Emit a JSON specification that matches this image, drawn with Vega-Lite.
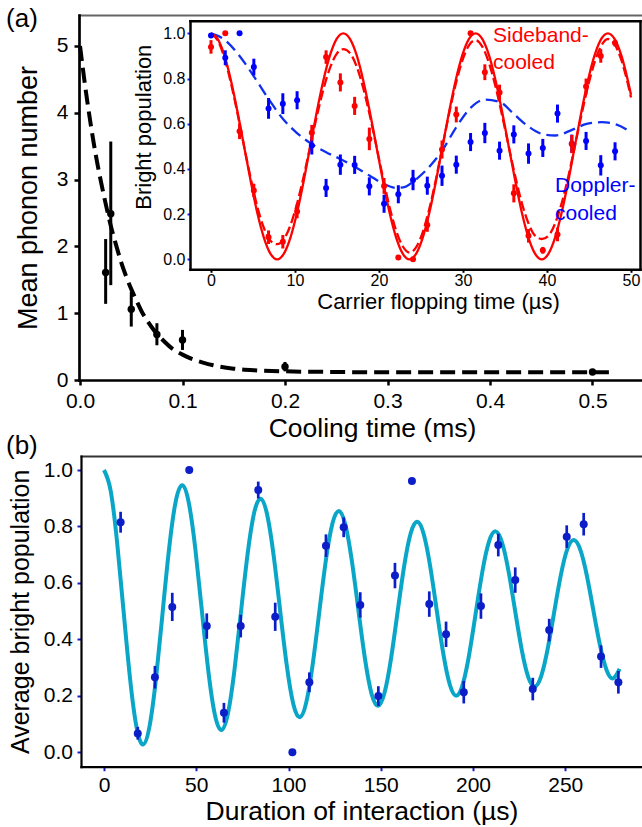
{
  "$schema": "https://vega.github.io/schema/vega-lite/v6.json",
  "width": 642,
  "height": 827,
  "autosize": "none",
  "padding": 0,
  "background": "white",
  "config": {
    "view": {"stroke": null},
    "font": "Liberation Sans",
    "axis": {"grid": false, "labelFont": "Liberation Sans", "titleFont": "Liberation Sans", "labelColor": "#000", "titleColor": "#000", "titleFontWeight": "normal", "domainColor": "#000", "tickColor": "#000", "labelFlush": false, "labelOverlap": false, "domainCap": "square"}
  },
  "datasets": {
    "a_pts": [
      {"t": 0.025, "n": 1.61, "lo": 1.14, "hi": 2.11},
      {"t": 0.03, "n": 2.49, "lo": 1.42, "hi": 3.57},
      {"t": 0.05, "n": 1.06, "lo": 0.8, "hi": 1.32},
      {"t": 0.075, "n": 0.68, "lo": 0.52, "hi": 0.85},
      {"t": 0.1, "n": 0.6, "lo": 0.45, "hi": 0.75},
      {"t": 0.2, "n": 0.2, "lo": 0.13, "hi": 0.27},
      {"t": 0.5, "n": 0.12, "lo": 0.09, "hi": 0.15}
    ],
    "a_fit": [
      {"t": 0, "n": 5.0}, {"t": 0.005, "n": 4.4}, {"t": 0.01, "n": 3.87}, {"t": 0.015, "n": 3.4},
      {"t": 0.02, "n": 3.0}, {"t": 0.025, "n": 2.64}, {"t": 0.03, "n": 2.31}, {"t": 0.035, "n": 2.03},
      {"t": 0.04, "n": 1.77}, {"t": 0.045, "n": 1.55}, {"t": 0.05, "n": 1.36}, {"t": 0.055, "n": 1.19},
      {"t": 0.06, "n": 1.03}, {"t": 0.065, "n": 0.9}, {"t": 0.07, "n": 0.79}, {"t": 0.075, "n": 0.69},
      {"t": 0.08, "n": 0.61}, {"t": 0.09, "n": 0.47}, {"t": 0.1, "n": 0.38}, {"t": 0.11, "n": 0.31},
      {"t": 0.12, "n": 0.26}, {"t": 0.13, "n": 0.22}, {"t": 0.15, "n": 0.17}, {"t": 0.17, "n": 0.145},
      {"t": 0.2, "n": 0.13}, {"t": 0.25, "n": 0.12}, {"t": 0.3, "n": 0.115}, {"t": 0.4, "n": 0.115},
      {"t": 0.516, "n": 0.115}
    ],
    "i_red": [
      {"t": 0, "y": 0.94, "lo": 0.91, "hi": 0.97},
      {"t": 1.7, "y": 1.0, "lo": 1.0, "hi": 1.0},
      {"t": 3.4, "y": 0.567, "lo": 0.532, "hi": 0.602},
      {"t": 5.1, "y": 0.305, "lo": 0.275, "hi": 0.335},
      {"t": 6.85, "y": 0.098, "lo": 0.068, "hi": 0.128},
      {"t": 8.55, "y": 0.078, "lo": 0.048, "hi": 0.108},
      {"t": 10.25, "y": 0.212, "lo": 0.182, "hi": 0.242},
      {"t": 12.0, "y": 0.56, "lo": 0.525, "hi": 0.595},
      {"t": 13.7, "y": 0.895, "lo": 0.865, "hi": 0.925},
      {"t": 15.4, "y": 0.783, "lo": 0.743, "hi": 0.823},
      {"t": 17.1, "y": 0.679, "lo": 0.639, "hi": 0.719},
      {"t": 18.85, "y": 0.533, "lo": 0.483, "hi": 0.583},
      {"t": 20.6, "y": 0.325, "lo": 0.29, "hi": 0.36},
      {"t": 22.3, "y": 0.008, "lo": 0.008, "hi": 0.008},
      {"t": 24.05, "y": 0.0, "lo": 0.0, "hi": 0.0},
      {"t": 25.75, "y": 0.152, "lo": 0.122, "hi": 0.182},
      {"t": 27.5, "y": 0.486, "lo": 0.446, "hi": 0.526},
      {"t": 29.2, "y": 0.641, "lo": 0.606, "hi": 0.676},
      {"t": 30.9, "y": 1.0, "lo": 1.0, "hi": 1.0},
      {"t": 32.6, "y": 0.828, "lo": 0.793, "hi": 0.863},
      {"t": 34.35, "y": 0.738, "lo": 0.703, "hi": 0.773},
      {"t": 36.05, "y": 0.292, "lo": 0.252, "hi": 0.332},
      {"t": 37.8, "y": 0.104, "lo": 0.074, "hi": 0.134},
      {"t": 39.5, "y": 0.04, "lo": 0.025, "hi": 0.055},
      {"t": 41.25, "y": 0.11, "lo": 0.08, "hi": 0.14},
      {"t": 42.95, "y": 0.51, "lo": 0.47, "hi": 0.55},
      {"t": 44.65, "y": 0.765, "lo": 0.73, "hi": 0.8},
      {"t": 46.4, "y": 0.9, "lo": 0.87, "hi": 0.93},
      {"t": 48.1, "y": 0.957, "lo": 0.942, "hi": 0.972}
    ],
    "i_blue": [
      {"t": 0, "y": 0.99, "lo": 0.99, "hi": 0.99},
      {"t": 1.7, "y": 0.892, "lo": 0.859, "hi": 0.925},
      {"t": 3.4, "y": 1.0, "lo": 1.0, "hi": 1.0},
      {"t": 5.1, "y": 0.851, "lo": 0.814, "hi": 0.888},
      {"t": 6.85, "y": 0.668, "lo": 0.622, "hi": 0.714},
      {"t": 8.55, "y": 0.689, "lo": 0.643, "hi": 0.735},
      {"t": 10.25, "y": 0.704, "lo": 0.664, "hi": 0.744},
      {"t": 12.0, "y": 0.504, "lo": 0.464, "hi": 0.544},
      {"t": 13.7, "y": 0.316, "lo": 0.276, "hi": 0.356},
      {"t": 15.4, "y": 0.419, "lo": 0.374, "hi": 0.464},
      {"t": 17.1, "y": 0.418, "lo": 0.378, "hi": 0.458},
      {"t": 18.85, "y": 0.323, "lo": 0.283, "hi": 0.363},
      {"t": 20.6, "y": 0.246, "lo": 0.206, "hi": 0.286},
      {"t": 22.3, "y": 0.288, "lo": 0.248, "hi": 0.328},
      {"t": 24.05, "y": 0.351, "lo": 0.306, "hi": 0.396},
      {"t": 25.75, "y": 0.326, "lo": 0.286, "hi": 0.366},
      {"t": 27.5, "y": 0.37, "lo": 0.325, "hi": 0.415},
      {"t": 29.2, "y": 0.419, "lo": 0.379, "hi": 0.459},
      {"t": 30.9, "y": 0.519, "lo": 0.479, "hi": 0.559},
      {"t": 32.6, "y": 0.559, "lo": 0.514, "hi": 0.604},
      {"t": 34.35, "y": 0.481, "lo": 0.441, "hi": 0.521},
      {"t": 36.05, "y": 0.553, "lo": 0.513, "hi": 0.593},
      {"t": 37.8, "y": 0.468, "lo": 0.423, "hi": 0.513},
      {"t": 39.5, "y": 0.493, "lo": 0.453, "hi": 0.533},
      {"t": 41.25, "y": 0.645, "lo": 0.605, "hi": 0.685},
      {"t": 42.95, "y": 0.512, "lo": 0.472, "hi": 0.552},
      {"t": 44.65, "y": 0.524, "lo": 0.484, "hi": 0.564},
      {"t": 46.4, "y": 0.416, "lo": 0.371, "hi": 0.461},
      {"t": 48.1, "y": 0.478, "lo": 0.438, "hi": 0.518}
    ],
    "i_redfit": [
      {"t": 0, "s": 1, "d": 1.0}, {"t": 0.79, "s": 0.9755, "d": 0.9692}, {"t": 1.58, "s": 0.9045, "d": 0.8937},
      {"t": 2.36, "s": 0.7939, "d": 0.7821}, {"t": 3.15, "s": 0.6545, "d": 0.6462}, {"t": 3.94, "s": 0.5, "d": 0.5},
      {"t": 4.73, "s": 0.3455, "d": 0.3579}, {"t": 5.51, "s": 0.2061, "d": 0.2337}, {"t": 6.3, "s": 0.0955, "d": 0.1389},
      {"t": 7.09, "s": 0.0245, "d": 0.0818}, {"t": 7.88, "s": 0, "d": 0.067}, {"t": 8.66, "s": 0.0245, "d": 0.0885},
      {"t": 9.45, "s": 0.0955, "d": 0.1502}, {"t": 10.24, "s": 0.2061, "d": 0.246}, {"t": 11.03, "s": 0.3455, "d": 0.3666},
      {"t": 11.81, "s": 0.5, "d": 0.5}, {"t": 12.6, "s": 0.6545, "d": 0.6332}, {"t": 13.39, "s": 0.7939, "d": 0.7533},
      {"t": 14.18, "s": 0.9045, "d": 0.8484}, {"t": 14.96, "s": 0.9755, "d": 0.9093}, {"t": 15.75, "s": 1, "d": 0.93},
      {"t": 16.54, "s": 0.9755, "d": 0.9128}, {"t": 17.33, "s": 0.9045, "d": 0.8543}, {"t": 18.11, "s": 0.7939, "d": 0.7598},
      {"t": 18.9, "s": 0.6545, "d": 0.6378}, {"t": 19.69, "s": 0.5, "d": 0.5}, {"t": 20.48, "s": 0.3455, "d": 0.3597},
      {"t": 21.26, "s": 0.2061, "d": 0.2308}, {"t": 22.05, "s": 0.0955, "d": 0.1262}, {"t": 22.84, "s": 0.0245, "d": 0.0568},
      {"t": 23.63, "s": 0, "d": 0.03}, {"t": 24.41, "s": 0.0245, "d": 0.053}, {"t": 25.2, "s": 0.0955, "d": 0.1198},
      {"t": 25.99, "s": 0.2061, "d": 0.2237}, {"t": 26.78, "s": 0.3455, "d": 0.3548}, {"t": 27.56, "s": 0.5, "d": 0.5},
      {"t": 28.35, "s": 0.6545, "d": 0.6452}, {"t": 29.14, "s": 0.7939, "d": 0.7763}, {"t": 29.93, "s": 0.9045, "d": 0.8802},
      {"t": 30.71, "s": 0.9755, "d": 0.947}, {"t": 31.5, "s": 1, "d": 0.97}, {"t": 32.29, "s": 0.9755, "d": 0.9413},
      {"t": 33.08, "s": 0.9045, "d": 0.8705}, {"t": 33.86, "s": 0.7939, "d": 0.7657}, {"t": 34.65, "s": 0.6545, "d": 0.6378},
      {"t": 35.44, "s": 0.5, "d": 0.5}, {"t": 36.23, "s": 0.3455, "d": 0.3659}, {"t": 37.01, "s": 0.2061, "d": 0.2484},
      {"t": 37.8, "s": 0.0955, "d": 0.1586}, {"t": 38.59, "s": 0.0245, "d": 0.1043}, {"t": 39.38, "s": 0, "d": 0.09},
      {"t": 40.16, "s": 0.0245, "d": 0.1039}, {"t": 40.95, "s": 0.0955, "d": 0.1578}, {"t": 41.74, "s": 0.2061, "d": 0.2475},
      {"t": 42.53, "s": 0.3455, "d": 0.3653}, {"t": 43.31, "s": 0.5, "d": 0.5}, {"t": 44.1, "s": 0.6545, "d": 0.6387},
      {"t": 44.89, "s": 0.7939, "d": 0.7677}, {"t": 45.68, "s": 0.9045, "d": 0.8738}, {"t": 46.46, "s": 0.9755, "d": 0.9456},
      {"t": 47.25, "s": 1, "d": 0.975}, {"t": 48.04, "s": 0.9755, "d": 0.9518}, {"t": 48.83, "s": 0.9045, "d": 0.8843},
      {"t": 49.61, "s": 0.7939, "d": 0.7792}, {"t": 50.0, "s": 0.728, "d": 0.7166}
    ],
    "i_bluefit": [
      {"t": 0, "y": 1.0}, {"t": 1.5, "y": 0.975}, {"t": 3.4, "y": 0.9}, {"t": 5.1, "y": 0.81},
      {"t": 6.85, "y": 0.71}, {"t": 8.6, "y": 0.62}, {"t": 10.2, "y": 0.56}, {"t": 12, "y": 0.51},
      {"t": 13.7, "y": 0.474}, {"t": 15.4, "y": 0.444}, {"t": 17.1, "y": 0.41}, {"t": 18.9, "y": 0.37},
      {"t": 20.6, "y": 0.333}, {"t": 22.1, "y": 0.316}, {"t": 23.2, "y": 0.322}, {"t": 24.1, "y": 0.345},
      {"t": 25.75, "y": 0.4}, {"t": 27.5, "y": 0.48}, {"t": 29.2, "y": 0.585}, {"t": 30.9, "y": 0.67},
      {"t": 32.6, "y": 0.707}, {"t": 34.4, "y": 0.696}, {"t": 36.0, "y": 0.645}, {"t": 37.7, "y": 0.59},
      {"t": 39.6, "y": 0.553}, {"t": 41.0, "y": 0.548}, {"t": 43.1, "y": 0.575}, {"t": 44.6, "y": 0.598},
      {"t": 46.5, "y": 0.607}, {"t": 48.3, "y": 0.596}, {"t": 49.9, "y": 0.565}
    ],
    "i_txt_red": [
      {"t": 33.57, "y": 0.987, "label": "Sideband-"},
      {"t": 33.57, "y": 0.868, "label": "cooled"}
    ],
    "i_txt_blue": [
      {"t": 40.95, "y": 0.324, "label": "Doppler-"},
      {"t": 40.95, "y": 0.201, "label": "cooled"}
    ],
    "b_pts": [
      {"t": 9.0, "p": 0.815, "lo": 0.778, "hi": 0.852},
      {"t": 18.3, "p": 0.067, "lo": 0.045, "hi": 0.09},
      {"t": 27.6, "p": 0.266, "lo": 0.226, "hi": 0.306},
      {"t": 37.0, "p": 0.515, "lo": 0.465, "hi": 0.565},
      {"t": 46.2, "p": 1.0, "lo": 1.0, "hi": 1.0},
      {"t": 55.7, "p": 0.447, "lo": 0.402, "hi": 0.492},
      {"t": 65.0, "p": 0.14, "lo": 0.105, "hi": 0.175},
      {"t": 74.1, "p": 0.447, "lo": 0.407, "hi": 0.487},
      {"t": 83.6, "p": 0.929, "lo": 0.899, "hi": 0.959},
      {"t": 92.8, "p": 0.48, "lo": 0.43, "hi": 0.53},
      {"t": 102.1, "p": 0.0, "lo": 0.0, "hi": 0.0},
      {"t": 111.3, "p": 0.248, "lo": 0.213, "hi": 0.283},
      {"t": 120.3, "p": 0.732, "lo": 0.692, "hi": 0.772},
      {"t": 129.9, "p": 0.797, "lo": 0.762, "hi": 0.832},
      {"t": 138.9, "p": 0.522, "lo": 0.477, "hi": 0.567},
      {"t": 148.7, "p": 0.199, "lo": 0.164, "hi": 0.234},
      {"t": 157.7, "p": 0.626, "lo": 0.581, "hi": 0.671},
      {"t": 166.9, "p": 0.961, "lo": 0.961, "hi": 0.961},
      {"t": 176.3, "p": 0.525, "lo": 0.48, "hi": 0.57},
      {"t": 185.4, "p": 0.418, "lo": 0.373, "hi": 0.463},
      {"t": 195.0, "p": 0.213, "lo": 0.173, "hi": 0.253},
      {"t": 204.3, "p": 0.518, "lo": 0.473, "hi": 0.563},
      {"t": 213.7, "p": 0.734, "lo": 0.694, "hi": 0.774},
      {"t": 222.9, "p": 0.61, "lo": 0.565, "hi": 0.655},
      {"t": 232.4, "p": 0.224, "lo": 0.184, "hi": 0.264},
      {"t": 241.3, "p": 0.433, "lo": 0.393, "hi": 0.473},
      {"t": 250.8, "p": 0.764, "lo": 0.724, "hi": 0.804},
      {"t": 260.0, "p": 0.808, "lo": 0.768, "hi": 0.848},
      {"t": 269.4, "p": 0.339, "lo": 0.299, "hi": 0.379},
      {"t": 278.8, "p": 0.248, "lo": 0.208, "hi": 0.288}
    ],
    "b_fit": [
      {"t": 0, "p": 1.0}, {"t": 3.54, "p": 0.9289}, {"t": 7.08, "p": 0.7453}, {"t": 10.61, "p": 0.5},
      {"t": 14.15, "p": 0.2593}, {"t": 17.69, "p": 0.0871}, {"t": 21.23, "p": 0.0277}, {"t": 24.76, "p": 0.0949},
      {"t": 28.3, "p": 0.2683}, {"t": 31.84, "p": 0.5}, {"t": 35.38, "p": 0.7273}, {"t": 38.91, "p": 0.89},
      {"t": 42.45, "p": 0.9461}, {"t": 45.99, "p": 0.8827}, {"t": 49.53, "p": 0.7189}, {"t": 53.06, "p": 0.5},
      {"t": 56.6, "p": 0.2853}, {"t": 60.14, "p": 0.1316}, {"t": 63.68, "p": 0.0787}, {"t": 67.21, "p": 0.1385},
      {"t": 70.75, "p": 0.2933}, {"t": 74.29, "p": 0.5}, {"t": 77.83, "p": 0.7028}, {"t": 81.36, "p": 0.848},
      {"t": 84.9, "p": 0.898}, {"t": 88.44, "p": 0.8414}, {"t": 91.98, "p": 0.6953}, {"t": 95.51, "p": 0.5},
      {"t": 99.05, "p": 0.3084}, {"t": 102.59, "p": 0.1714}, {"t": 106.13, "p": 0.1241}, {"t": 109.66, "p": 0.1776},
      {"t": 113.2, "p": 0.3156}, {"t": 116.74, "p": 0.5}, {"t": 120.28, "p": 0.681}, {"t": 123.81, "p": 0.8104},
      {"t": 127.35, "p": 0.8551}, {"t": 130.89, "p": 0.8046}, {"t": 134.43, "p": 0.6742}, {"t": 137.96, "p": 0.5},
      {"t": 141.5, "p": 0.3291}, {"t": 145.04, "p": 0.2068}, {"t": 148.58, "p": 0.1646}, {"t": 152.11, "p": 0.2123},
      {"t": 155.65, "p": 0.3355}, {"t": 159.19, "p": 0.5}, {"t": 162.73, "p": 0.6614}, {"t": 166.26, "p": 0.7769},
      {"t": 169.8, "p": 0.8168}, {"t": 173.34, "p": 0.7718}, {"t": 176.88, "p": 0.6554}, {"t": 180.41, "p": 0.5},
      {"t": 183.95, "p": 0.3475}, {"t": 187.49, "p": 0.2384}, {"t": 191.03, "p": 0.2008}, {"t": 194.56, "p": 0.2433},
      {"t": 198.1, "p": 0.3532}, {"t": 201.64, "p": 0.5}, {"t": 205.18, "p": 0.644}, {"t": 208.71, "p": 0.7471},
      {"t": 212.25, "p": 0.7826}, {"t": 215.79, "p": 0.7424}, {"t": 219.33, "p": 0.6387}, {"t": 222.86, "p": 0.5},
      {"t": 226.4, "p": 0.3639}, {"t": 229.94, "p": 0.2666}, {"t": 233.48, "p": 0.2331}, {"t": 237.01, "p": 0.271},
      {"t": 240.55, "p": 0.369}, {"t": 244.09, "p": 0.5}, {"t": 247.63, "p": 0.6285}, {"t": 251.16, "p": 0.7204},
      {"t": 254.7, "p": 0.7521}, {"t": 258.24, "p": 0.7162}, {"t": 261.78, "p": 0.6237}, {"t": 265.31, "p": 0.5},
      {"t": 268.85, "p": 0.3786}, {"t": 272.39, "p": 0.2918}, {"t": 275.93, "p": 0.2619}, {"t": 279.46, "p": 0.2957}
    ],
    "lab_a": [{"t": -0.0722, "n": 5.404, "label": "(a)"}],
    "lab_b": [{"t": -53.12, "p": 1.085, "label": "(b)"}]
  },
  "layer": [
    {
      "data": {"name": "a_fit"},
      "mark": {"type": "line", "color": "#000", "strokeWidth": 4, "strokeDash": [15, 7], "interpolate": "monotone"},
      "encoding": {
        "x": {"field": "t", "type": "quantitative", "scale": {"domain": [-0.001, 0.5483], "range": [79, 642], "zero": false, "nice": false},
              "axis": {"orient": "top", "offset": -15, "ticks": false, "labels": false, "title": null, "domainColor": "#666", "domainWidth": 2}},
        "y": {"field": "n", "type": "quantitative", "scale": {"domain": [0, 5.464], "range": [380, 15], "zero": false, "nice": false}, "axis": null}
      }
    },
    {
      "data": {"name": "a_pts"},
      "mark": {"type": "rule", "color": "#000", "strokeWidth": 3},
      "encoding": {
        "x": {"field": "t", "type": "quantitative", "scale": {"domain": [-0.001, 0.5483], "range": [79, 642], "zero": false, "nice": false}, "axis": null},
        "y": {"field": "lo", "type": "quantitative", "scale": {"domain": [0, 5.464], "range": [380, 15], "zero": false, "nice": false}, "axis": null},
        "y2": {"field": "hi"}
      }
    },
    {
      "data": {"name": "a_pts"},
      "mark": {"type": "circle", "color": "#000", "size": 55, "opacity": 1},
      "encoding": {
        "x": {"field": "t", "type": "quantitative", "scale": {"domain": [-0.001, 0.5483], "range": [79, 642], "zero": false, "nice": false},
              "axis": {"orient": "bottom", "offset": -447, "values": [0, 0.1, 0.2, 0.3, 0.4, 0.5], "format": ".1f", "title": "Cooling time (ms)", "titleFontSize": 26.5, "titlePadding": 4, "titleX": 372, "labelFontSize": 21, "labelPadding": 5, "tickSize": 5, "tickWidth": 2.5, "domainWidth": 2.7}},
        "y": {"field": "n", "type": "quantitative", "scale": {"domain": [0, 5.464], "range": [380, 15], "zero": false, "nice": false},
              "axis": {"orient": "left", "offset": -79, "values": [0, 1, 2, 3, 4, 5], "format": "d", "title": "Mean phonon number", "titleFontSize": 27, "titlePadding": 14, "labelFontSize": 21, "labelPadding": 6, "tickSize": 5, "tickWidth": 2.5, "domainWidth": 2.7}}
      }
    },
    {
      "data": {"name": "lab_a"},
      "mark": {"type": "text", "align": "left", "baseline": "middle", "fontSize": 26, "color": "#000"},
      "encoding": {
        "x": {"field": "t", "type": "quantitative", "scale": {"domain": [-0.001, 0.5483], "range": [79, 642], "zero": false, "nice": false}, "axis": null},
        "y": {"field": "n", "type": "quantitative", "scale": {"domain": [0, 5.464], "range": [380, 15], "zero": false, "nice": false}, "axis": null},
        "text": {"field": "label"}
      }
    },
    {
      "data": {"name": "i_bluefit"},
      "mark": {"type": "line", "color": "#1030f0", "strokeWidth": 2.3, "strokeDash": [12, 6], "interpolate": "monotone"},
      "encoding": {
        "x": {"field": "t", "type": "quantitative", "scale": {"domain": [-2.5, 51.07], "range": [190, 640], "zero": false, "nice": false},
              "axis": {"orient": "top", "offset": -20.7, "ticks": false, "labels": false, "title": null, "domainWidth": 2.5}},
        "y": {"field": "y", "type": "quantitative", "scale": {"domain": [-0.044, 1.056], "range": [269.3, 20.7], "zero": false, "nice": false},
              "axis": {"orient": "right", "offset": -2, "ticks": false, "labels": false, "title": null, "domainWidth": 2.5}}
      }
    },
    {
      "data": {"name": "i_redfit"},
      "mark": {"type": "line", "color": "#ff0000", "strokeWidth": 2.3, "strokeDash": [10, 4], "interpolate": "monotone"},
      "encoding": {
        "x": {"field": "t", "type": "quantitative", "scale": {"domain": [-2.5, 51.07], "range": [190, 640], "zero": false, "nice": false}, "axis": null},
        "y": {"field": "d", "type": "quantitative", "scale": {"domain": [-0.044, 1.056], "range": [269.3, 20.7], "zero": false, "nice": false}, "axis": null}
      }
    },
    {
      "data": {"name": "i_redfit"},
      "mark": {"type": "line", "color": "#ff0000", "strokeWidth": 2.3, "interpolate": "monotone"},
      "encoding": {
        "x": {"field": "t", "type": "quantitative", "scale": {"domain": [-2.5, 51.07], "range": [190, 640], "zero": false, "nice": false}, "axis": null},
        "y": {"field": "s", "type": "quantitative", "scale": {"domain": [-0.044, 1.056], "range": [269.3, 20.7], "zero": false, "nice": false}, "axis": null}
      }
    },
    {
      "data": {"name": "i_blue"},
      "mark": {"type": "rule", "color": "#0000ff", "strokeWidth": 3},
      "encoding": {
        "x": {"field": "t", "type": "quantitative", "scale": {"domain": [-2.5, 51.07], "range": [190, 640], "zero": false, "nice": false}, "axis": null},
        "y": {"field": "lo", "type": "quantitative", "scale": {"domain": [-0.044, 1.056], "range": [269.3, 20.7], "zero": false, "nice": false}, "axis": null},
        "y2": {"field": "hi"}
      }
    },
    {
      "data": {"name": "i_blue"},
      "mark": {"type": "circle", "color": "#0000ff", "size": 36, "opacity": 1},
      "encoding": {
        "x": {"field": "t", "type": "quantitative", "scale": {"domain": [-2.5, 51.07], "range": [190, 640], "zero": false, "nice": false}, "axis": null},
        "y": {"field": "y", "type": "quantitative", "scale": {"domain": [-0.044, 1.056], "range": [269.3, 20.7], "zero": false, "nice": false}, "axis": null}
      }
    },
    {
      "data": {"name": "i_red"},
      "mark": {"type": "rule", "color": "#ff0000", "strokeWidth": 3},
      "encoding": {
        "x": {"field": "t", "type": "quantitative", "scale": {"domain": [-2.5, 51.07], "range": [190, 640], "zero": false, "nice": false}, "axis": null},
        "y": {"field": "lo", "type": "quantitative", "scale": {"domain": [-0.044, 1.056], "range": [269.3, 20.7], "zero": false, "nice": false}, "axis": null},
        "y2": {"field": "hi"}
      }
    },
    {
      "data": {"name": "i_red"},
      "mark": {"type": "circle", "color": "#ff0000", "size": 36, "opacity": 1},
      "encoding": {
        "x": {"field": "t", "type": "quantitative", "scale": {"domain": [-2.5, 51.07], "range": [190, 640], "zero": false, "nice": false},
              "axis": {"orient": "bottom", "offset": -557.7, "values": [0, 10, 20, 30, 40, 50], "title": "Carrier flopping time (µs)", "titleFontSize": 22, "titlePadding": 3, "titleX": 438, "labelFontSize": 16, "labelPadding": 0, "tickSize": 3, "tickWidth": 2, "domainWidth": 2.5}},
        "y": {"field": "y", "type": "quantitative", "scale": {"domain": [-0.044, 1.056], "range": [269.3, 20.7], "zero": false, "nice": false},
              "axis": {"orient": "left", "offset": -190, "values": [0, 0.2, 0.4, 0.6, 0.8, 1], "format": ".1f", "title": "Bright population", "titleFontSize": 22, "titlePadding": 7, "titleY": 126.7, "labelFontSize": 16, "labelPadding": 2, "tickSize": 3, "tickWidth": 2, "tickColor": "#2020e0", "domainWidth": 2.5}}
      }
    },
    {
      "data": {"name": "i_txt_red"},
      "mark": {"type": "text", "align": "left", "baseline": "middle", "fontSize": 21, "color": "#ff0000"},
      "encoding": {
        "x": {"field": "t", "type": "quantitative", "scale": {"domain": [-2.5, 51.07], "range": [190, 640], "zero": false, "nice": false}, "axis": null},
        "y": {"field": "y", "type": "quantitative", "scale": {"domain": [-0.044, 1.056], "range": [269.3, 20.7], "zero": false, "nice": false}, "axis": null},
        "text": {"field": "label"}
      }
    },
    {
      "data": {"name": "i_txt_blue"},
      "mark": {"type": "text", "align": "left", "baseline": "middle", "fontSize": 21, "color": "#0000ff"},
      "encoding": {
        "x": {"field": "t", "type": "quantitative", "scale": {"domain": [-2.5, 51.07], "range": [190, 640], "zero": false, "nice": false}, "axis": null},
        "y": {"field": "y", "type": "quantitative", "scale": {"domain": [-0.044, 1.056], "range": [269.3, 20.7], "zero": false, "nice": false}, "axis": null},
        "text": {"field": "label"}
      }
    },
    {
      "data": {"name": "b_fit"},
      "mark": {"type": "line", "color": "#0aa6c8", "strokeWidth": 4, "interpolate": "natural"},
      "encoding": {
        "x": {"field": "t", "type": "quantitative", "scale": {"domain": [-12.47, 291.6], "range": [81, 642], "zero": false, "nice": false},
              "axis": {"orient": "top", "offset": -456, "ticks": false, "labels": false, "title": null, "domainColor": "#333", "domainWidth": 2}},
        "y": {"field": "p", "type": "quantitative", "scale": {"domain": [-0.051, 1.0496], "range": [766.7, 456], "zero": false, "nice": false}, "axis": null}
      }
    },
    {
      "data": {"name": "b_pts"},
      "mark": {"type": "rule", "color": "#0c1ec8", "strokeWidth": 2.7},
      "encoding": {
        "x": {"field": "t", "type": "quantitative", "scale": {"domain": [-12.47, 291.6], "range": [81, 642], "zero": false, "nice": false}, "axis": null},
        "y": {"field": "lo", "type": "quantitative", "scale": {"domain": [-0.051, 1.0496], "range": [766.7, 456], "zero": false, "nice": false}, "axis": null},
        "y2": {"field": "hi"}
      }
    },
    {
      "data": {"name": "b_pts"},
      "mark": {"type": "circle", "color": "#0c1ec8", "size": 64, "opacity": 1},
      "encoding": {
        "x": {"field": "t", "type": "quantitative", "scale": {"domain": [-12.47, 291.6], "range": [81, 642], "zero": false, "nice": false},
              "axis": {"orient": "bottom", "offset": -60.3, "values": [0, 50, 100, 150, 200, 250], "format": "d", "title": "Duration of interaction (µs)", "titleFontSize": 26.5, "titlePadding": 3, "labelFontSize": 21, "labelPadding": 3.5, "tickSize": 4, "tickWidth": 2, "tickColor": "#1a1acd", "domainWidth": 2.2}},
        "y": {"field": "p", "type": "quantitative", "scale": {"domain": [-0.051, 1.0496], "range": [766.7, 456], "zero": false, "nice": false},
              "axis": {"orient": "left", "offset": -81, "values": [0, 0.2, 0.4, 0.6, 0.8, 1], "format": ".1f", "title": "Average bright population", "titleFontSize": 25, "titlePadding": 10, "labelFontSize": 21, "labelPadding": 4.5, "tickSize": 4, "tickWidth": 2, "tickColor": "#1a1acd", "domainWidth": 2.2}}
      }
    },
    {
      "data": {"name": "lab_b"},
      "mark": {"type": "text", "align": "left", "baseline": "middle", "fontSize": 26, "color": "#000"},
      "encoding": {
        "x": {"field": "t", "type": "quantitative", "scale": {"domain": [-12.47, 291.6], "range": [81, 642], "zero": false, "nice": false}, "axis": null},
        "y": {"field": "p", "type": "quantitative", "scale": {"domain": [-0.051, 1.0496], "range": [766.7, 456], "zero": false, "nice": false}, "axis": null},
        "text": {"field": "label"}
      }
    }
  ],
  "resolve": {
    "scale": {"x": "independent", "y": "independent"},
    "axis": {"x": "independent", "y": "independent"}
  }
}
